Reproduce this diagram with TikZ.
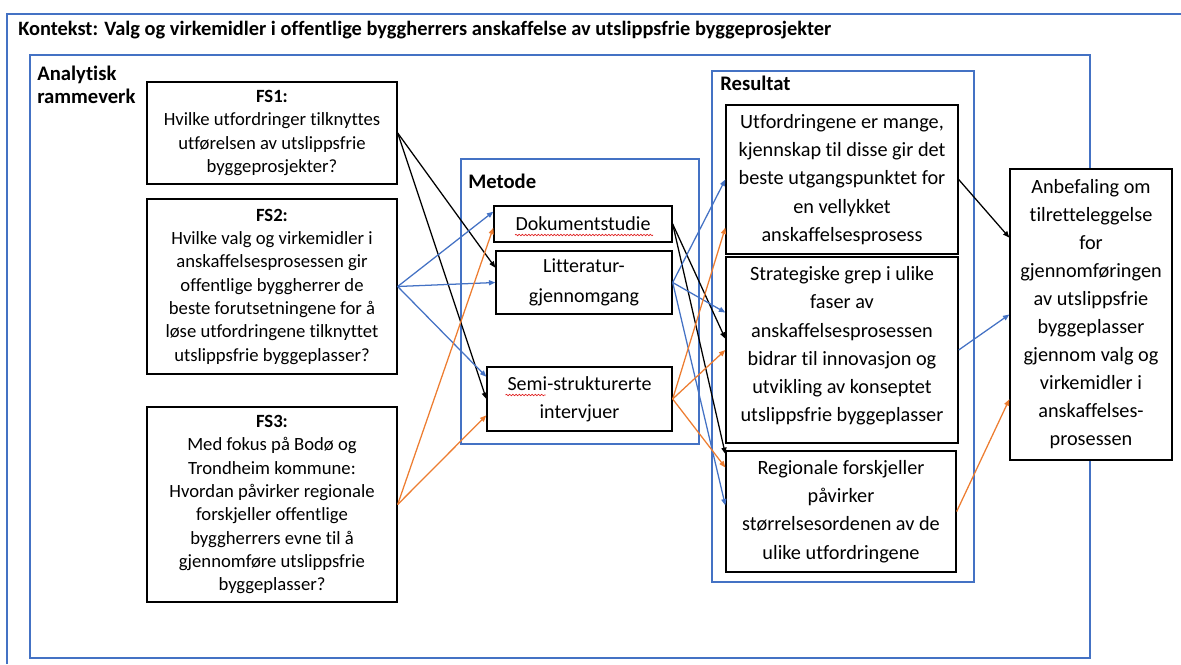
\documentclass[tikz,border=0pt]{standalone}
\usepackage{fontspec}
\setmainfont{Carlito}[Ligatures=NoCommon]
\usetikzlibrary{arrows.meta,calc,fit,decorations.pathmorphing}
\definecolor{frameblue}{HTML}{4472C4}
\definecolor{cblue}{HTML}{4472C4}
\definecolor{corange}{HTML}{ED7D31}
\definecolor{spellred}{HTML}{E02020}
\begin{document}
\begin{tikzpicture}[x=0.75pt,y=-0.75pt,
  frame/.style={draw=frameblue, line width=0.9pt},
  heading/.style={font=\bfseries\fontsize{15.5pt}{17.3pt}\selectfont, align=left, inner sep=0pt},
  qbox/.style={draw=black, line width=1pt, fill=white, inner sep=0pt, align=center,
    font=\fontsize{14pt}{17.5pt}\selectfont},
  label/.style={draw=none, fill=none, inner sep=0pt, align=center},
  mbox/.style={qbox, font=\fontsize{15pt}{21pt}\selectfont},
  rbox/.style={qbox, font=\fontsize{15.2pt}{21.2pt}\selectfont},
  conn/.style={line width=0.95pt, -{Triangle[length=4.8pt,width=3.8pt]}},
  squiggle/.style={draw=spellred, line width=0.5pt, decorate,
    decoration={snake, amplitude=0.55pt, segment length=2.4pt}}
]
\useasboundingbox (0,0) rectangle (1181,664);

% context frame, running off the page to the right and below
\draw[frame] (7,664) -- (7,14) -- (1181,14);
\node[heading, anchor=west, font=\bfseries\fontsize{15.3pt}{17pt}\selectfont] (ctx) at (18,30)
  {Kontekst: Valg og virkemidler i offentlige byggherrers anskaffelse av utslippsfrie byggeprosjekter};

% analytical framework
\draw[frame] (30,55) rectangle (1090,658);
\node[heading, anchor=north west] (ana) at (37,66) {Analytisk\\rammeverk};

% method and result frames
\draw[frame] (461,159) rectangle (699,444);
\node[heading, anchor=west] (met) at (468,181) {Metode};
\draw[frame] (712,71) rectangle (974,582);
\node[heading, anchor=west] (res) at (720,83) {Resultat};

% research questions
\node[qbox, fit={(147,82) (397,184)}] (fs1) {};
\node[qbox, label] at (fs1.center) {\textbf{FS1:}\\Hvilke utfordringer tilknyttes\\utførelsen av utslippsfrie\\byggeprosjekter?};
\node[qbox, fit={(147,199) (397,374)}] (fs2) {};
\node[qbox, label] at (fs2.center) {\textbf{FS2:}\\Hvilke valg og virkemidler i\\anskaffelsesprosessen gir\\offentlige byggherrer de\\beste forutsetningene for å\\løse utfordringene tilknyttet\\utslippsfrie byggeplasser?};
\node[qbox, fit={(147,407) (397,602)}] (fs3) {};
\node[qbox, label] at (fs3.center) {\textbf{FS3:}\\Med fokus på Bodø og\\Trondheim kommune:\\Hvordan påvirker regionale\\forskjeller offentlige\\byggherrers evne til å\\gjennomføre utslippsfrie\\byggeplasser?};

% methods
\node[mbox, fit={(494,206) (672,242)}] (dok) {};
\node[mbox, label] at (dok.center) {Dokumentstudie};
\node[mbox, fit={(496,251) (672,314)}] (lit) {};
\node[mbox, label, font=\fontsize{15pt}{22.5pt}\selectfont] at (lit.center) {Litteratur-\\gjennomgang};
\node[mbox, fit={(487,367) (672,431)}] (semi) {};
\node[mbox, label] at (semi.center) {Semi-strukturerte\\intervjuer};

% spell-check marks under two words
\draw[squiggle] ($(dok.center)+(-68,11)$) -- ($(dok.center)+(70,11)$);
\draw[squiggle] ($(semi.center)+(-74,-4)$) -- ($(semi.center)+(-34,-4)$);

% results
\node[rbox, fit={(726,105) (958,254)}] (r1) {};
\node[rbox, label] at (r1.center) {Utfordringene er mange,\\kjennskap til disse gir det\\beste utgangspunktet for\\en vellykket\\anskaffelsesprosess};
\node[rbox, fit={(726,257) (958,443)}] (r2) {};
\node[rbox, label] at ($(r2.center)+(0,-4)$) {Strategiske grep i ulike\\faser av\\anskaffelsesprosessen\\bidrar til innovasjon og\\utvikling av konseptet\\utslippsfrie byggeplasser};
\node[rbox, fit={(726,451) (956,572)}] (r3) {};
\node[rbox, label] at (r3.center) {Regionale forskjeller\\påvirker\\størrelsesordenen av de\\ulike utfordringene};

% recommendation
\node[rbox, fit={(1010,169) (1172,460)}] (anb) {};
\node[rbox, label, font=\fontsize{15.2pt}{21pt}\selectfont] at (anb.center) {Anbefaling om\\tilretteleggelse\\for\\gjennomføringen\\av utslippsfrie\\byggeplasser\\gjennom valg og\\virkemidler i\\anskaffelses-\\prosessen};

% FS1 -> methods
\draw[conn] (fs1.east) -- ($(lit.north west)!0.27!(lit.south west)$);
\draw[conn] (fs1.east) -- (semi.west);
% FS2 -> methods
\draw[conn, cblue] (fs2.east) -- ($(dok.north west)!0.17!(dok.south west)$);
\draw[conn, cblue] (fs2.east) -- (lit.west);
\draw[conn, cblue] (fs2.east) -- ($(semi.north west)!0.16!(semi.south west)$);
% FS3 -> methods
\draw[conn, corange] (fs3.east) -- ($(dok.north west)!0.6!(dok.south west)$);
\draw[conn, corange] (fs3.east) -- ($(semi.north west)!0.75!(semi.south west)$);
% document study -> results
\draw[conn] (dok.east) -- ($(r2.north west)!0.44!(r2.south west)$);
\draw[conn] (dok.east) -- ($(r3.north west)!0.03!(r3.south west)$);
% literature review -> results
\draw[conn, cblue] (lit.east) -- (r1.west);
\draw[conn, cblue] (lit.east) -- ($(r2.north west)!0.3!(r2.south west)$);
\draw[conn, cblue] (lit.east) -- ($(r3.north west)!0.45!(r3.south west)$);
% interviews -> results
\draw[conn, corange] (semi.east) -- ($(r1.north west)!0.82!(r1.south west)$);
\draw[conn, corange] (semi.east) -- (r2.west);
\draw[conn, corange] (semi.east) -- ($(r3.north west)!0.14!(r3.south west)$);
% results -> recommendation
\draw[conn] (r1.east) -- ($(anb.north west)!0.237!(anb.south west)$);
\draw[conn, cblue] (r2.east) -- (anb.west);
\draw[conn, corange] (r3.east) -- ($(anb.north west)!0.79!(anb.south west)$);
\end{tikzpicture}
\end{document}
